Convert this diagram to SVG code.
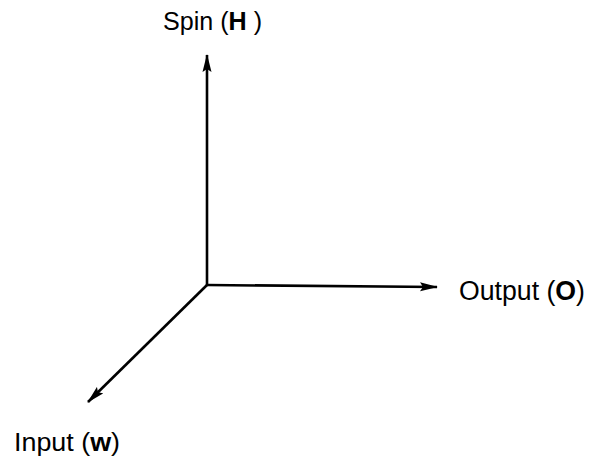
<svg xmlns="http://www.w3.org/2000/svg" width="592" height="463" viewBox="0 0 592 463">
<style>
text{font-family:"Liberation Sans",Arial,sans-serif;font-size:25px;fill:#000}
.b{font-weight:bold}
.ax{stroke:#000;stroke-width:2.6;fill:none}
</style>
<defs>
<marker id="ah" markerWidth="18" markerHeight="10" refX="17" refY="5" orient="auto" markerUnits="userSpaceOnUse">
<path d="M0,0.5 L18,5 L0,9.5 L3,5 Z" fill="#000"/>
</marker>
</defs>
<rect width="592" height="463" fill="#fff"/>
<g id="connectors">
<line class="ax" x1="207" y1="285" x2="207" y2="55" marker-end="url(#ah)"/>
<line class="ax" x1="207" y1="285" x2="437" y2="287" marker-end="url(#ah)"/>
<line class="ax" x1="207" y1="285" x2="88" y2="402" marker-end="url(#ah)"/>
</g>
<g id="spin"><text x="163" y="30" textLength="99" lengthAdjust="spacingAndGlyphs">Spin (<tspan class="b">H</tspan> )</text></g>
<g id="output"><text x="459" y="300" style="font-size:27px" textLength="126" lengthAdjust="spacingAndGlyphs">Output (<tspan class="b">O</tspan>)</text></g>
<g id="input"><text x="14" y="451" textLength="106" lengthAdjust="spacingAndGlyphs">Input (<tspan class="b">w</tspan>)</text></g>
</svg>
